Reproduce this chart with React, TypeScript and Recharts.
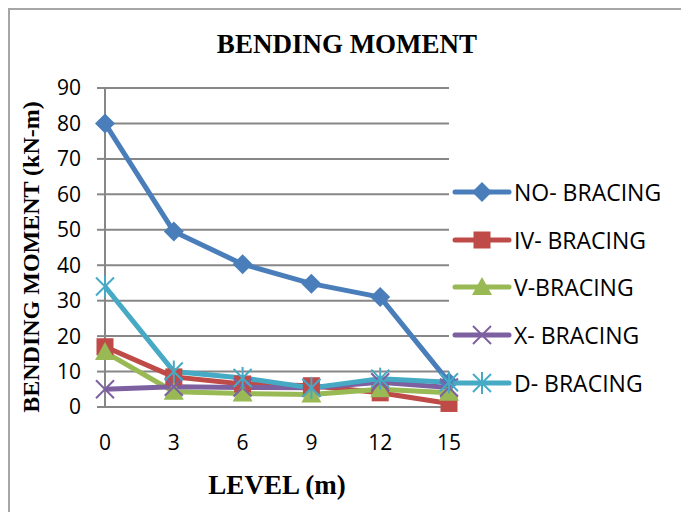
import * as React from "react";
import { LineChart, Line, XAxis, YAxis, CartesianGrid } from "recharts";

const levels = [0, 3, 6, 9, 12, 15];
const noBracing = [80, 49.5, 40.3, 34.8, 31, 7];
const ivBracing = [17, 8.5, 6.5, 6, 4, 1];
const vBracing = [15.5, 4.3, 3.8, 3.5, 5, 4];
const xBracing = [5, 5.7, 5.5, 5.4, 7, 5.5];
const dBracing = [34, 10, 8.2, 5.4, 8, 7];
const yTicks = [0, 10, 20, 30, 40, 50, 60, 70, 80, 90];

const data = levels.map((level, i) => ({
  level,
  no: noBracing[i],
  iv: ivBracing[i],
  v: vBracing[i],
  x: xBracing[i],
  d: dBracing[i],
}));

const GRID = "#878787";
const FONT = "'Open Sans', sans-serif";
const SERIF = "'Liberation Serif', 'Times New Roman', serif";

type Shape = "diamond" | "square" | "triangle" | "cross" | "star";

const series: { key: string; name: string; color: string; shape: Shape }[] = [
  { key: "no", name: "NO- BRACING", color: "#4A7EBB", shape: "diamond" },
  { key: "iv", name: "IV- BRACING", color: "#BE4B48", shape: "square" },
  { key: "v", name: "V-BRACING", color: "#98B954", shape: "triangle" },
  { key: "x", name: "X- BRACING", color: "#7D60A0", shape: "cross" },
  { key: "d", name: "D- BRACING", color: "#46AAC5", shape: "star" },
];

function marker(shape: Shape, cx: number, cy: number, color: string, k?: string) {
  switch (shape) {
    case "diamond":
      return <path key={k} d={`M${cx},${cy - 10}L${cx + 10},${cy}L${cx},${cy + 10}L${cx - 10},${cy}Z`} fill={color} />;
    case "square":
      return <rect key={k} x={cx - 8.5} y={cy - 8.5} width={17} height={17} fill={color} />;
    case "triangle":
      return <path key={k} d={`M${cx},${cy - 10}L${cx + 10},${cy + 8}L${cx - 10},${cy + 8}Z`} fill={color} />;
    case "cross":
      return (
        <g key={k} stroke={color} strokeWidth={2}>
          <line x1={cx - 9} y1={cy - 9} x2={cx + 9} y2={cy + 9} />
          <line x1={cx - 9} y1={cy + 9} x2={cx + 9} y2={cy - 9} />
        </g>
      );
    default:
      return (
        <g key={k} stroke={color} strokeWidth={2}>
          <line x1={cx - 9} y1={cy - 9} x2={cx + 9} y2={cy + 9} />
          <line x1={cx - 9} y1={cy + 9} x2={cx + 9} y2={cy - 9} />
          <line x1={cx} y1={cy - 11} x2={cx} y2={cy + 11} />
        </g>
      );
  }
}

const makeDot = (shape: Shape, color: string) => (props: any) =>
  marker(shape, props.cx, props.cy, color, `${shape}-${props.index}`);

const LegendBox = () => (
  <div style={{ position: "absolute", left: 452, top: 168, fontFamily: FONT, fontSize: 23, color: "#000" }}>
    {series.map((s) => (
      <div key={s.key} style={{ display: "flex", alignItems: "center", height: 47.75 }}>
        <svg width={60} height={30}>
          <line x1={3} y1={15} x2={57} y2={15} stroke={s.color} strokeWidth={5} strokeLinecap="round" />
          {marker(s.shape, 30, 15, s.color)}
        </svg>
        <span style={{ marginLeft: 2, whiteSpace: "nowrap" }}>{s.name}</span>
      </div>
    ))}
  </div>
);

export default function App() {
  return (
    <div style={{ position: "absolute", left: 0, top: 0, width: 681, height: 512, background: "#fff", overflow: "hidden" }}>
      <div
        style={{
          position: "absolute",
          left: 8,
          top: 8,
          width: 700,
          height: 520,
          borderLeft: "2px solid #a6a6a6",
          borderTop: "2px solid #a6a6a6",
        }}
      />
      <div
        style={{
          position: "absolute",
          left: 347,
          top: 44,
          transform: "translate(-50%, -50%)",
          whiteSpace: "nowrap",
          fontFamily: SERIF,
          fontWeight: "bold",
          fontSize: 27,
        }}
      >
        BENDING MOMENT
      </div>
      <div
        style={{
          position: "absolute",
          left: 31,
          top: 257,
          transform: "translate(-50%, -50%) rotate(-90deg)",
          whiteSpace: "nowrap",
          fontFamily: SERIF,
          fontWeight: "bold",
          fontSize: 24,
        }}
      >
        BENDING MOMENT (kN-m)
      </div>
      <div
        style={{
          position: "absolute",
          left: 277,
          top: 485,
          transform: "translate(-50%, -50%)",
          whiteSpace: "nowrap",
          fontFamily: SERIF,
          fontWeight: "bold",
          fontSize: 27,
        }}
      >
        LEVEL (m)
      </div>
      <LineChart
        width={681}
        height={512}
        data={data}
        margin={{ top: 88, right: 232, bottom: 75, left: 15 }}
        style={{ position: "absolute", left: 0, top: 0 }}
      >
        <CartesianGrid vertical={false} stroke={GRID} strokeWidth={2} />
        <XAxis
          dataKey="level"
          height={30}
          tickLine={false}
          tickSize={0}
          tickMargin={28}
          axisLine={{ stroke: GRID, strokeWidth: 2 }}
          tick={{ fontFamily: FONT, fontSize: 21, fill: "#000" }}
        />
        <YAxis
          width={90}
          domain={[0, 90]}
          ticks={yTicks}
          tickSize={8}
          tickMargin={16}
          interval={0}
          axisLine={{ stroke: GRID, strokeWidth: 2 }}
          tickLine={{ stroke: GRID, strokeWidth: 2 }}
          tick={{ fontFamily: FONT, fontSize: 21, fill: "#000" }}
        />
        {series.map((s) => (
          <Line
            key={s.key}
            dataKey={s.key}
            name={s.name}
            stroke={s.color}
            strokeWidth={5}
            strokeLinejoin="round"
            dot={makeDot(s.shape, s.color)}
            activeDot={false}
            isAnimationActive={false}
          />
        ))}
      </LineChart>
      <LegendBox />
    </div>
  );
}
